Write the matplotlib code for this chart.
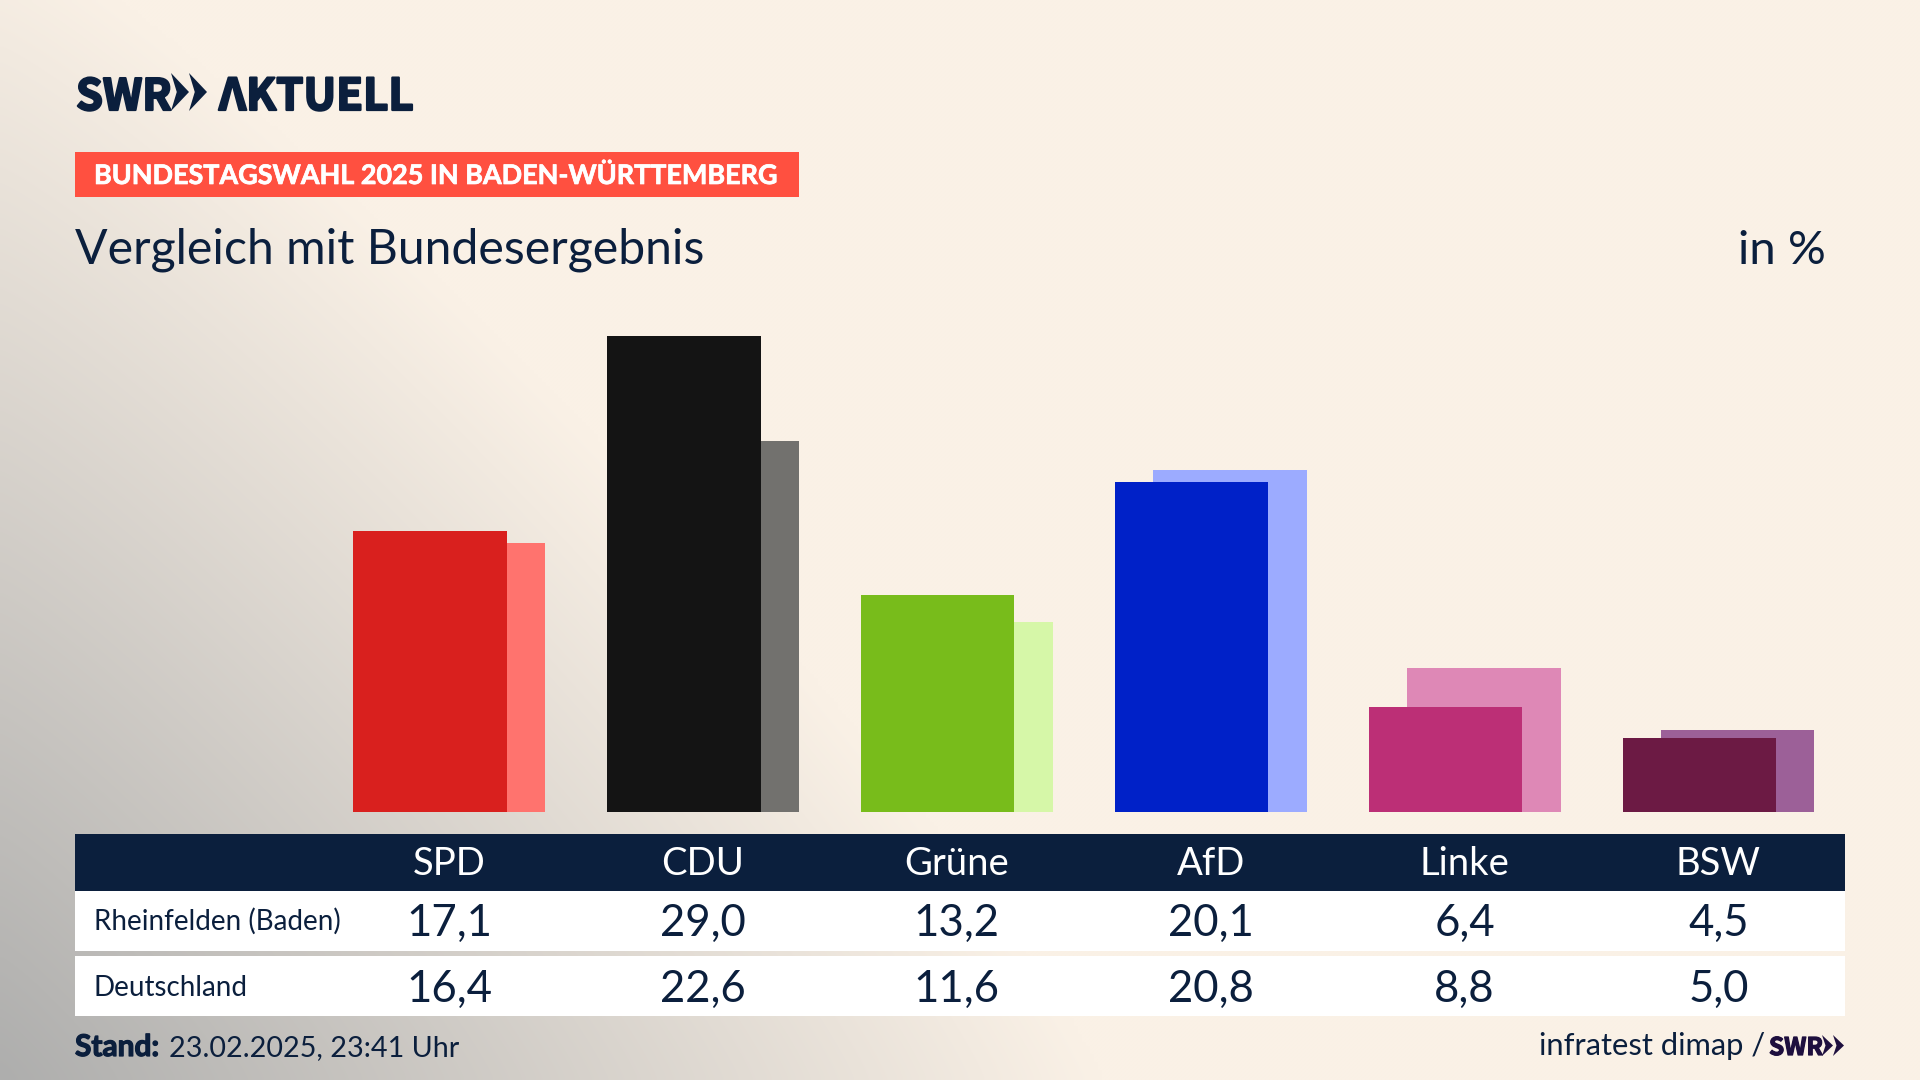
import numpy as np
import matplotlib
matplotlib.use("Agg")
import matplotlib.pyplot as plt
import matplotlib.patheffects as pe
from matplotlib.patches import Rectangle, Polygon
from matplotlib.colors import to_rgb

parties = ["SPD", "CDU", "Grüne", "AfD", "Linke", "BSW"]
rheinfelden = [17.1, 29.0, 13.2, 20.1, 6.4, 4.5]
deutschland = [16.4, 22.6, 11.6, 20.8, 8.8, 5.0]
front_colors = ["#D9201E", "#141414", "#78BC1B", "#0021C8", "#BC2F76", "#6C1A44"]
back_colors = ["#FF736E", "#72716E", "#D6F7A8", "#9CABFF", "#DE88B6", "#9C6098"]
row_labels = ["Rheinfelden (Baden)", "Deutschland"]

NAVY = "#0B1F3D"
W, H = 1920, 1080
FONT = "Lato"
fig = plt.figure(figsize=(19.2, 10.8), dpi=100)

# background
bg = fig.add_axes([0, 0, 1, 1], zorder=0)
bg.set_axis_off()
yy, xx = np.mgrid[0:H:270j, 0:W:480j]
p = 1.15
t = ((xx / 1100.0) ** p + ((H - yy) / 1157.0) ** p) ** (1 / p)
t = np.clip(t, 0, 1)
c0 = np.array(to_rgb("#AEAEAD"))
c1 = np.array(to_rgb("#FAF1E6"))
img = c0[None, None, :] * (1 - t[..., None]) + c1[None, None, :] * t[..., None]
bg.imshow(img, extent=[0, W, H, 0], aspect="auto", interpolation="bilinear")

# chart axes
BAR_L, BAR_R, BASE, TOP = 353, 1814, 812, 290
PX_PER_GROUP = 253.9
PX_PER_UNIT = 16.42
ax = fig.add_axes([BAR_L / W, 1 - BASE / H, (BAR_R - BAR_L) / W, (BASE - TOP) / H], zorder=1)
ax.patch.set_alpha(0)
ax.set_xlim(0, (BAR_R - BAR_L) / PX_PER_GROUP)
ax.set_ylim(0, (BASE - TOP) / PX_PER_UNIT)
ax.set_axis_off()
x = np.arange(len(parties))
bw = 153.6 / PX_PER_GROUP
off = 38.3 / PX_PER_GROUP
ax.bar(x + off, deutschland, width=bw, align="edge", color=back_colors, linewidth=0, zorder=1)
ax.bar(x, rheinfelden, width=bw, align="edge", color=front_colors, linewidth=0, zorder=2)

# overlay in pixel coordinates
ov = fig.add_axes([0, 0, 1, 1], zorder=2)
ov.patch.set_alpha(0)
ov.set_xlim(0, W)
ov.set_ylim(H, 0)
ov.set_axis_off()


def T(px, py, s, size, color=NAVY, weight="normal", ha="left", family=FONT, stroke=0):
    txt = ov.text(px, py, s, fontsize=size, color=color, fontweight=weight, ha=ha,
                  va="baseline", family=family)
    if stroke:
        txt.set_path_effects([pe.withStroke(linewidth=stroke, foreground=color)])
    return txt


def chevrons(x0, top, bottom, w, color):
    mid = (top + bottom) / 2
    for k in range(2):
        a = x0 + k * w
        ov.add_patch(Polygon([(a, top), (a + w, mid), (a, bottom), (a + 0.32 * w, mid)],
                             closed=True, fc=color, ec="none"))


LOGO = "Noto Sans CJK SC"
T(76, 110, "SWR", 31, weight="bold", family=LOGO, stroke=1.6)
chevrons(171, 73, 111, 18, NAVY)
T(219, 110, "ΛKTUELL", 31.5, weight="bold", family=LOGO, stroke=1.6)

ov.add_patch(Rectangle((75, 152), 724, 45, fc="#FF5040", ec="none"))
T(94, 184, "BUNDESTAGSWAHL 2025 IN BADEN-WÜRTTEMBERG", 19.4, color="white", weight="bold", stroke=0.5)
T(75, 264, "Vergleich mit Bundesergebnis", 34.7)
T(1826, 264, "in %", 34, ha="right")

# table
ov.add_patch(Rectangle((75, 834), 1770, 57, fc=NAVY, ec="none"))
ov.add_patch(Rectangle((75, 891), 1770, 60, fc="white", ec="none"))
ov.add_patch(Rectangle((75, 956), 1770, 60, fc="white", ec="none"))
centers = BAR_L + (x + (bw + off) / 2) * PX_PER_GROUP
for cx, pn, a, b in zip(centers, parties, rheinfelden, deutschland):
    T(cx, 875, pn, 27.5, color="white", ha="center")
    T(cx, 936, f"{a:.1f}".replace(".", ","), 31.5, ha="center")
    T(cx, 1002, f"{b:.1f}".replace(".", ","), 31.5, ha="center")
T(94, 930, row_labels[0], 20)
T(94, 996, row_labels[1], 20)

# footer
T(75, 1056, "Stand:", 21.5, weight="bold", stroke=0.9)
T(169, 1056, "23.02.2025, 23:41 Uhr", 20.7)
T(1539, 1055, "infratest dimap /", 22.2)
T(1769, 1055, "SWR", 17.5, color="#1E0F3E", weight="bold", family=LOGO, stroke=0.9)
chevrons(1822, 1035, 1056, 11, "#1E0F3E")

fig.savefig("out.png", dpi=100)
